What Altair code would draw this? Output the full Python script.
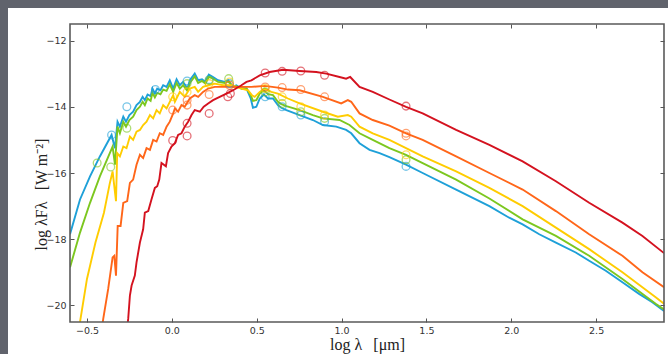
import altair as alt
import pandas as pd

# ---------------- data ----------------
series_names = ["blue", "green", "yellow", "orange", "red"]
series_colors = ["#1ea0d8", "#7cc71f", "#ffcc00", "#ff6619", "#d4121f"]

blue_x = [-0.6, -0.541, -0.482, -0.424, -0.355, -0.335, -0.32, -0.306, -0.286, -0.27, -0.25, -0.228, -0.208, -0.188,
          -0.172, -0.159, -0.143, -0.125, -0.114, -0.1, -0.086, -0.067, -0.051, -0.031, -0.012, 0.008, 0.028, 0.047,
          0.066, 0.092, 0.106, 0.135, 0.155, 0.178, 0.198, 0.218, 0.243, 0.272, 0.312, 0.331, 0.36, 0.38, 0.41, 0.44,
          0.465, 0.478, 0.498, 0.518, 0.543, 0.567, 0.596, 0.625, 0.645, 0.675, 0.753, 0.831, 0.89, 0.969, 1.027,
          1.057, 1.106, 1.165, 1.224, 1.282, 1.38, 1.478, 1.675, 1.871, 1.988, 2.067, 2.165, 2.263, 2.38, 2.459,
          2.557, 2.655, 2.753, 2.831, 2.9]
blue_y = [-17.85, -16.8, -16.1, -15.5, -14.85, -15.25, -14.45, -14.6, -14.3, -14.45, -14.25, -14.15, -13.95, -13.85,
          -13.7, -13.8, -13.63, -13.68, -13.45, -13.6, -13.45, -13.5, -13.35, -13.4, -13.2, -13.45, -13.17, -13.35,
          -13.25, -13.45, -13.2, -13.0, -13.2, -13.17, -13.25, -13.03, -13.1, -13.2, -13.25, -13.2, -13.4, -13.35,
          -13.45, -13.45, -13.75, -14.03, -14.0, -13.75, -13.63, -13.75, -13.75, -13.95, -14.03, -14.1, -14.25, -14.4,
          -14.55, -14.6, -14.7, -14.8, -15.1, -15.3, -15.4, -15.52, -15.75, -16.0, -16.5, -17.0, -17.35, -17.55,
          -17.85, -18.1, -18.4, -18.65, -18.95, -19.3, -19.65, -19.9, -20.17]

green_x = [-0.6, -0.541, -0.482, -0.424, -0.349, -0.335, -0.32, -0.306, -0.286, -0.27, -0.25, -0.228, -0.208, -0.188,
           -0.172, -0.159, -0.143, -0.125, -0.114, -0.1, -0.086, -0.067, -0.051, -0.031, -0.012, 0.008, 0.028, 0.047,
           0.066, 0.092, 0.106, 0.135, 0.155, 0.178, 0.198, 0.218, 0.243, 0.272, 0.312, 0.331, 0.36, 0.38, 0.41, 0.44,
           0.465, 0.478, 0.498, 0.518, 0.543, 0.567, 0.596, 0.625, 0.645, 0.675, 0.753, 0.831, 0.89, 0.988, 1.047,
           1.106, 1.184, 1.282, 1.38, 1.478, 1.675, 1.871, 2.067, 2.263, 2.459, 2.655, 2.851, 2.9]
green_y = [-18.85, -17.8, -16.9, -16.1, -15.2, -15.75, -14.6, -14.8, -14.45, -14.6, -14.4, -14.3, -14.1, -14.0,
           -13.85, -13.95, -13.75, -13.82, -13.58, -13.72, -13.58, -13.62, -13.48, -13.52, -13.32, -13.55, -13.28,
           -13.45, -13.35, -13.52, -13.28, -13.08, -13.28, -13.22, -13.3, -13.1, -13.15, -13.25, -13.28, -13.22, -13.4,
           -13.38, -13.45, -13.45, -13.65, -13.82, -13.8, -13.6, -13.5, -13.62, -13.65, -13.85, -13.92, -13.98, -14.1,
           -14.25, -14.35, -14.4, -14.55, -14.8, -15.0, -15.25, -15.45, -15.7, -16.2, -16.77, -17.4, -17.9, -18.5,
           -19.2, -19.95, -20.12]

yellow_x = [-0.6, -0.541, -0.5, -0.45, -0.4, -0.365, -0.349, -0.329, -0.322, -0.306, -0.286, -0.267, -0.247, -0.228,
            -0.208, -0.188, -0.169, -0.149, -0.129, -0.11, -0.09, -0.071, -0.051, -0.031, -0.012, 0.008, 0.018, 0.047,
            0.076, 0.106, 0.135, 0.155, 0.184, 0.214, 0.253, 0.302, 0.351, 0.41, 0.449, 0.472, 0.488, 0.518, 0.547,
            0.586, 0.625, 0.684, 0.753, 0.89, 0.978, 1.037, 1.057, 1.106, 1.184, 1.282, 1.38, 1.478, 1.675, 1.871,
            2.067, 2.263, 2.459, 2.655, 2.851, 2.9]
yellow_y = [-22.0, -20.5, -19.2, -18.1, -17.2, -16.3, -15.95, -16.85, -15.4, -15.5, -15.2, -15.25, -14.9, -15.0,
            -14.75, -14.7, -14.55, -14.45, -14.25, -14.35, -14.1, -14.2, -13.95, -14.05, -13.85, -13.65, -13.85,
            -13.55, -13.7, -13.45, -13.4, -13.55, -13.4, -13.35, -13.3, -13.35, -13.35, -13.45, -13.5, -13.65, -13.7,
            -13.55, -13.45, -13.55, -13.6, -13.75, -13.9, -14.15, -14.3, -14.25, -14.3, -14.6, -14.8, -15.0, -15.25,
            -15.5, -15.95, -16.45, -17.0, -17.65, -18.3, -19.0, -19.75, -19.95]

orange_x = [-0.43, -0.404, -0.375, -0.349, -0.339, -0.329, -0.319, -0.302, -0.286, -0.263, -0.247, -0.228, -0.208,
            -0.188, -0.169, -0.149, -0.129, -0.11, -0.09, -0.071, -0.051, -0.031, -0.012, 0.008, 0.018, 0.037, 0.057,
            0.076, 0.106, 0.135, 0.155, 0.184, 0.214, 0.253, 0.312, 0.41, 0.469, 0.547, 0.625, 0.684, 0.753, 0.89,
            0.998, 1.037, 1.057, 1.106, 1.184, 1.282, 1.38, 1.478, 1.675, 1.871, 2.067, 2.263, 2.459, 2.655, 2.773,
            2.9]
orange_y = [-21.3, -20.4, -19.5, -18.55, -18.5, -19.1, -17.6, -17.6, -16.9, -16.85, -16.3, -16.2, -15.75, -15.45,
            -15.55, -15.25, -15.3, -15.0, -15.05, -14.8, -14.85, -14.6, -14.45, -14.2, -14.05, -14.15, -13.95, -14.0,
            -13.75, -13.65, -13.7, -13.55, -13.45, -13.4, -13.4, -13.4, -13.4, -13.37, -13.42, -13.48, -13.5, -13.7,
            -13.9, -13.8, -13.85, -14.2, -14.4, -14.57, -14.8, -15.0, -15.5, -16.0, -16.5, -17.15, -17.85, -18.5,
            -19.0, -19.45]

red_x = [-0.27, -0.257, -0.247, -0.237, -0.218, -0.208, -0.188, -0.169, -0.159, -0.139, -0.12, -0.1, -0.086, -0.074,
         -0.061, -0.035, -0.022, -0.002, 0.018, 0.037, 0.057, 0.076, 0.096, 0.116, 0.135, 0.165, 0.188, 0.214, 0.243,
         0.282, 0.322, 0.361, 0.41, 0.44, 0.469, 0.518, 0.576, 0.655, 0.753, 0.851, 0.91, 0.988, 1.027, 1.051, 1.106,
         1.184, 1.282, 1.38, 1.478, 1.675, 1.871, 2.067, 2.263, 2.459, 2.655, 2.773, 2.9]
red_y = [-21.0, -20.4, -19.7, -19.4, -19.1, -18.7, -18.1, -17.7, -17.2, -17.15, -16.8, -16.45, -16.4, -16.2, -15.7,
         -15.8, -15.4, -15.2, -15.1, -14.85, -14.8, -14.6, -14.45, -14.25, -14.1, -14.15, -14.0, -13.9, -13.8, -13.7,
         -13.6, -13.5, -13.35, -13.25, -13.2, -13.05, -12.95, -12.88, -12.92, -12.95, -13.0, -13.1, -13.15, -13.1,
         -13.4, -13.55, -13.78, -14.0, -14.2, -14.7, -15.15, -15.65, -16.25, -16.9, -17.5, -17.9, -18.42]

# observed photometry (open circles)
blue_px = [-0.355, -0.265, -0.097, 0.09, 0.22, 0.34, 0.55, 0.65, 0.76, 0.9, 1.38]
blue_py = [-14.85, -14.0, -13.48, -13.22, -13.18, -13.3, -13.7, -14.0, -14.25, -14.45, -15.8]
green_px = [-0.44, -0.36, -0.265, 0.09, 0.22, 0.335, 0.55, 0.65, 0.76, 0.9, 1.38]
green_py = [-15.7, -15.82, -14.65, -13.3, -13.2, -13.15, -13.55, -13.9, -14.15, -14.35, -15.6]
yellow_px = [0.005, 0.09, 0.22, 0.34, 0.55, 0.65, 0.76, 0.9, 1.38]
yellow_py = [-13.7, -13.55, -13.3, -13.25, -13.45, -13.7, -14.0, -14.25, -15.45]
orange_px = [0.005, 0.09, 0.09, 0.22, 0.34, 0.55, 0.65, 0.76, 0.9, 1.38, 1.38]
orange_py = [-14.1, -13.95, -13.8, -13.63, -13.35, -13.4, -13.42, -13.48, -13.7, -14.8, -14.88]
red_px = [0.005, 0.09, 0.09, 0.22, 0.33, 0.345, 0.55, 0.65, 0.76, 0.9, 1.38]
red_py = [-15.02, -14.5, -14.88, -14.2, -13.7, -13.6, -12.98, -12.93, -12.92, -13.05, -13.98]

x_ticks = [-0.5, 0.0, 0.5, 1.0, 1.5, 2.0, 2.5]
y_ticks = [-12, -14, -16, -18, -20]

# ---------------- tables ----------------
line_sets = [blue_x, green_x, yellow_x, orange_x, red_x]
line_vals = [blue_y, green_y, yellow_y, orange_y, red_y]
pt_sets = [blue_px, green_px, yellow_px, orange_px, red_px]
pt_vals = [blue_py, green_py, yellow_py, orange_py, red_py]

rows = []
for k, (n, xs, ys) in enumerate(zip(series_names, line_sets, line_vals)):
    for i, (a, b) in enumerate(zip(xs, ys)):
        rows.append({"s": n, "k": k, "i": i, "x": a, "y": b})
lines_df = pd.DataFrame(rows)

prow = []
for k, (n, xs, ys) in enumerate(zip(series_names, pt_sets, pt_vals)):
    for a, b in zip(xs, ys):
        prow.append({"s": n, "k": k, "x": a, "y": b})
pts_df = pd.DataFrame(prow)

W, H = 594, 298
xs_ = alt.Scale(domain=[-0.6, 2.9], nice=False, zero=False)
ys_ = alt.Scale(domain=[-20.5, -11.5], nice=False, zero=False)
cs_ = alt.Scale(domain=series_names, range=series_colors)

TICK = "#555555"
LBL = dict(labelFont="DejaVu Sans", labelFontSize=9.5, labelColor="#333333")

one = pd.DataFrame({"a": [0]})
bg = alt.Chart(one).mark_rect(color="white").encode(
    x=alt.value(-62), x2=alt.value(W + 10), y=alt.value(-16), y2=alt.value(H + 40)
)
frame = alt.Chart(one).mark_rect(fill=None, stroke="#5a5a5a", strokeWidth=1.6).encode(
    x=alt.value(0), x2=alt.value(W), y=alt.value(0), y2=alt.value(H)
)

lines = alt.Chart(lines_df).mark_line(strokeWidth=1.9, clip=True).encode(
    x=alt.X("x:Q", scale=xs_, axis=alt.Axis(
        orient="bottom", values=x_ticks, format=".1f", offset=-4, tickSize=4, tickColor=TICK, tickWidth=1,
        domain=False, grid=False, labelPadding=3, title="log λ\u2002\u2009[μm]", titleFont="Liberation Serif",
        titleFontSize=16, titleFontWeight="normal", titleColor="#222222", titlePadding=2, zindex=2, **LBL)),
    y=alt.Y("y:Q", scale=ys_, axis=alt.Axis(
        orient="left", values=y_ticks, format="d", offset=-4, tickSize=4, tickColor=TICK, tickWidth=1,
        domain=False, grid=False, labelPadding=4, title="log λFλ\u2002\u2009[W m⁻²]", titleFont="Liberation Serif",
        titleFontSize=16, titleFontWeight="normal", titleColor="#222222", titleBaseline="middle",
        titleX=-33, titleY=170, zindex=2, **LBL)),
    color=alt.Color("s:N", scale=cs_, legend=None),
    detail="s:N",
    order="i:Q",
)

points = alt.Chart(pts_df).mark_point(shape="circle", filled=False, size=60, strokeWidth=1.3,
                                       opacity=0.6, clip=True).encode(
    x=alt.X("x:Q", scale=xs_, axis=alt.Axis(
        orient="top", values=x_ticks, offset=-4, tickSize=4, tickColor=TICK, tickWidth=1,
        domain=False, grid=False, labels=False, title=None, zindex=2)),
    y=alt.Y("y:Q", scale=ys_, axis=alt.Axis(
        orient="right", values=y_ticks, offset=-4, tickSize=4, tickColor=TICK, tickWidth=1,
        domain=False, grid=False, labels=False, title=None, zindex=2)),
    color=alt.Color("s:N", scale=cs_, legend=None),
)

chart = alt.layer(bg, lines, points, frame).resolve_axis(x="independent", y="independent").properties(
    width=W, height=H,
    background="#60636c",
    padding={"left": 70, "top": 24, "right": 4, "bottom": 32},
    autosize=alt.AutoSizeParams(type="none"),
).configure_view(stroke=None)

chart.save("out.html", embed_options={"renderer": "svg", "actions": False})
